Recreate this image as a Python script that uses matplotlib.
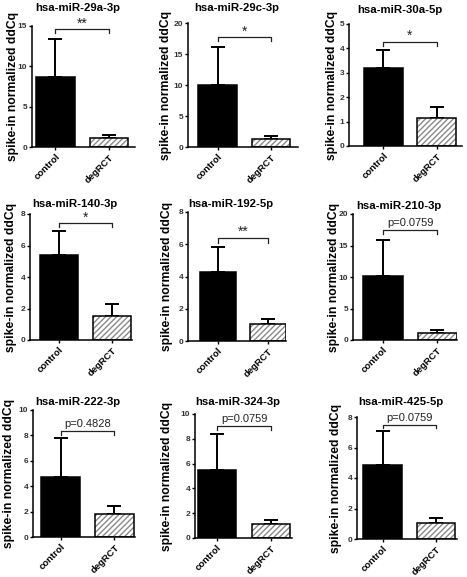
import numpy as np
import matplotlib.pyplot as plt

plt.rcParams['font.family'] = ['Liberation Sans', 'DejaVu Sans']

# data
titles = ['hsa-miR-29a-3p', 'hsa-miR-29c-3p', 'hsa-miR-30a-5p',
          'hsa-miR-140-3p', 'hsa-miR-192-5p', 'hsa-miR-210-3p',
          'hsa-miR-222-3p', 'hsa-miR-324-3p', 'hsa-miR-425-5p']
groups = ['control', 'degRCT']
control_mean = [8.7, 10.0, 3.2, 5.4, 4.25, 10.15, 4.7, 5.45, 4.82]
control_top = [13.4, 16.1, 3.92, 6.9, 5.83, 15.9, 7.8, 8.4, 7.06]
degrct_mean = [1.12, 1.32, 1.16, 1.52, 1.03, 1.16, 1.83, 1.13, 1.06]
degrct_top = [1.52, 1.85, 1.58, 2.3, 1.38, 1.65, 2.47, 1.47, 1.36]
sig_labels = ['**', '*', '*', '*', '**', 'p=0.0759', 'p=0.4828', 'p=0.0759', 'p=0.0759']
bracket_y = [14.6, 17.7, 4.27, 7.4, 6.4, 17.5, 8.35, 9.0, 7.5]
bracket_drop = [0.5, 0.6, 0.17, 0.25, 0.3, 0.7, 0.32, 0.32, 0.22]
y_max = [15, 20, 5, 8, 8, 20, 10, 10, 8]
y_step = [5, 5, 1, 2, 2, 5, 2, 2, 2]

# panel layout in pixels: left, right, top, bottom, xlim, ylabel offset
W, H = 467, 577
layout = [
    (32, 135, 26, 147, -0.44, 1.49, 13),
    (188, 298, 23, 147, -0.55, 1.50, 16),
    (349, 462, 24, 146, -0.65, 1.48, 11),
    (30, 132, 214, 340, -0.55, 1.38, 13),
    (188, 286, 212, 341, -0.60, 1.37, 15),
    (353, 457, 214, 340, -0.55, 1.36, 13),
    (33, 135, 410, 537, -0.51, 1.38, 18),
    (195, 292, 414, 538, -0.41, 1.39, 22),
    (357, 457, 417, 539, -0.48, 1.39, 15),
]
title_base = [11, 11, 13, 207, 207, 209, 405, 405, 405]

fig = plt.figure(figsize=(W / 100, H / 100), dpi=100)

x = np.arange(len(groups))
for i in range(9):
    l, r, t, b, x0, x1, lab_off = layout[i]
    ax = fig.add_axes([l / W, 1 - b / H, (r - l) / W, (b - t) / H])
    means = [control_mean[i], degrct_mean[i]]
    tops = [control_top[i], degrct_top[i]]
    err = np.array(tops) - np.array(means)

    # error bars (upper only)
    ax.errorbar(x, means, yerr=[np.zeros(2), err], fmt='none', ecolor='black',
                elinewidth=1.4, capsize=5, capthick=1.4, zorder=1)
    ax.bar(x[0], means[0], width=0.72, color='black', edgecolor='black',
           linewidth=1.1, zorder=2)
    ax.bar(x[1], means[1], width=0.72, color='white', edgecolor='#8a8a8a',
           hatch='//////', linewidth=0, zorder=2)
    ax.bar(x[1], means[1], width=0.72, fill=False, edgecolor='black',
           linewidth=1.1, zorder=3)

    # significance bracket
    by = bracket_y[i]
    bd = bracket_drop[i]
    ax.plot([x[0], x[0], x[1], x[1]], [by - bd, by, by, by - bd],
            color='#222222', lw=0.9, clip_on=False)
    if sig_labels[i].startswith('p'):
        ax.annotate(sig_labels[i], (0.5, by), xytext=(0, 1.5),
                    textcoords='offset points', ha='center', va='bottom',
                    fontsize=8, color='#222222')
    else:
        ax.annotate(sig_labels[i], (0.5, by), xytext=(0, -1),
                    textcoords='offset points', ha='center', va='bottom',
                    fontsize=10, color='#222222')

    ax.set_xlim(x0, x1)
    ax.set_ylim(0, y_max[i])
    ax.set_yticks(np.arange(0, y_max[i] + 0.01, y_step[i]))
    ax.set_yticklabels([str(v) for v in range(0, y_max[i] + 1, y_step[i])],
                       fontsize=6, fontweight='bold', color='#333333')
    ax.set_xticks(x)
    ax.set_xticklabels(groups, rotation=45, ha='right', rotation_mode='anchor',
                       fontsize=6.8, fontweight='bold')
    ax.tick_params(axis='x', length=2, width=1, pad=2)
    ax.tick_params(axis='y', length=2.5, width=1, pad=1)
    for s in ['top', 'right']:
        ax.spines[s].set_visible(False)
    for s in ['left', 'bottom']:
        ax.spines[s].set_linewidth(1.1)

    ax.set_ylabel('spike-in normalized ddCq', fontsize=8.7, fontweight='bold')
    ax.yaxis.set_label_coords(-lab_off / (r - l), 0.5)

    fig.text(((l + r) / 2 - 6) / W, 1 - title_base[i] / H, titles[i],
             ha='center', va='baseline', fontsize=8.2, fontweight='bold')

fig.savefig('out.png', dpi=100)
